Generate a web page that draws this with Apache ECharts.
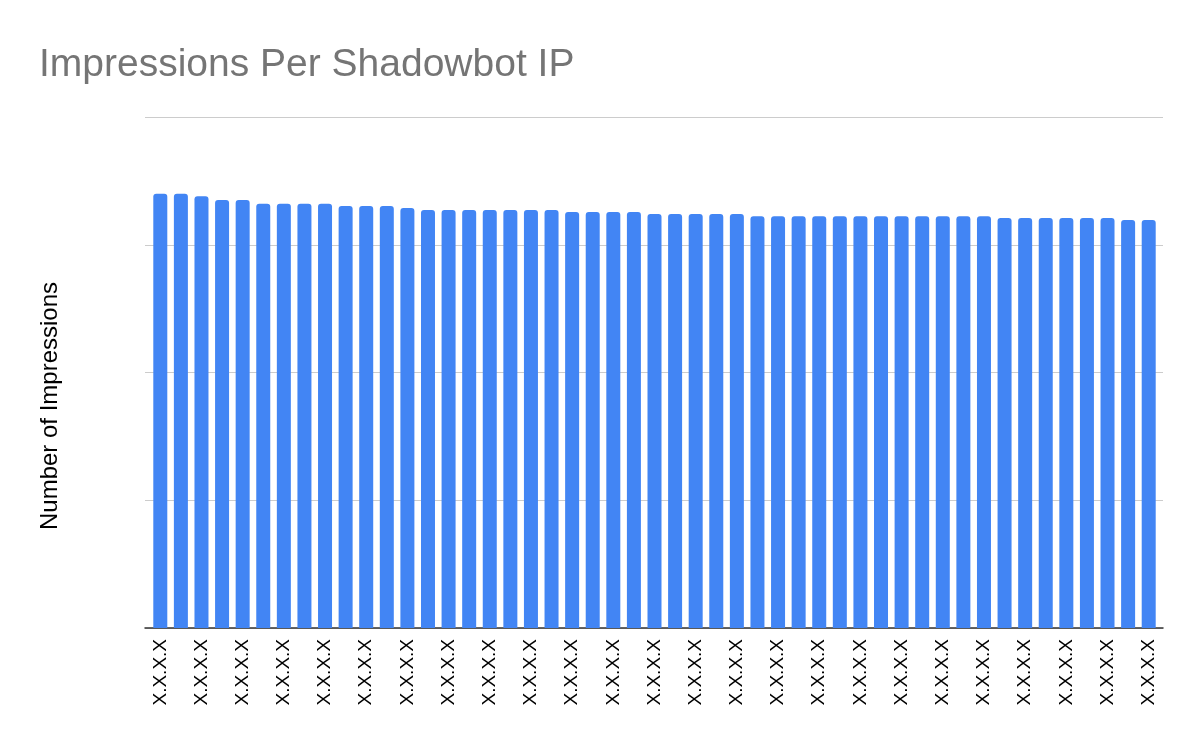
<!DOCTYPE html>
<html>
<head>
<meta charset="utf-8">
<script src="https://cdn.jsdelivr.net/npm/echarts@6/dist/echarts.min.js"></script>
<style>html,body{margin:0;padding:0;background:#fff;}#c{width:1200px;height:742px;}</style>
</head>
<body>
<div id="c"></div>
<script>
var titleText = "Impressions Per Shadowbot IP";
var yAxisName = "Number of Impressions";
var ipLabel = "X.X.X.X";
var values = [
  1700, 1700, 1690, 1675, 1675, 1660, 1660, 1660, 1660, 1652,
  1652, 1652, 1644, 1636, 1636, 1636, 1636, 1636, 1636, 1636,
  1628, 1628, 1628, 1628, 1620, 1620, 1620, 1620, 1620, 1612,
  1612, 1612, 1612, 1612, 1612, 1612, 1612, 1612, 1612, 1612,
  1612, 1605, 1605, 1605, 1605, 1605, 1605, 1597, 1597
];
var categories = values.map(function(){ return ipLabel; });
var yMax = 2000, yInterval = 500;

var chart = echarts.init(document.getElementById('c'));
chart.setOption({
  animation: false,
  backgroundColor: '#fff',
  title: {
    text: titleText, left: 34, top: 41,
    textStyle: { fontFamily: 'Liberation Sans, Arial, sans-serif', fontSize: 39, fontWeight: 'normal', color: '#757575' }
  },
  graphic: [{
    type: 'text', x: 50, y: 406, rotation: Math.PI / 2,
    style: { text: yAxisName, fontFamily: 'Liberation Sans, Arial, sans-serif', fontSize: 24, fill: '#000', align: 'center', verticalAlign: 'middle' }
  }],
  grid: [
    { left: 145, right: 37, top: 117, bottom: 114 },
    { left: 150, right: 41, top: 117, bottom: 114 }
  ],
  xAxis: [
    { type: 'value', gridIndex: 0, min: 0, max: 1, axisLabel: { show: false }, axisTick: { show: false }, splitLine: { show: false },
      axisLine: { show: true, onZero: false, lineStyle: { color: '#333', width: 1.5 } } },
    { type: 'category', gridIndex: 1, data: categories, axisLine: { show: false }, axisTick: { show: false },
      axisLabel: { interval: 1, rotate: 90, margin: 11, fontFamily: 'Liberation Sans, Arial, sans-serif', fontSize: 19, color: '#000' } }
  ],
  yAxis: [
    { type: 'value', gridIndex: 0, min: 0, max: yMax, interval: yInterval, axisLabel: { show: false }, axisLine: { show: false }, axisTick: { show: false },
      splitLine: { show: true, lineStyle: { color: '#cccccc', width: 1 } } },
    { type: 'value', gridIndex: 1, min: 0, max: yMax, interval: yInterval, show: false, splitLine: { show: false } }
  ],
  series: [{
    type: 'bar', xAxisIndex: 1, yAxisIndex: 1, data: values, barWidth: 14,
    itemStyle: { color: '#4285F4', borderRadius: [3, 3, 0, 0] }
  }]
});
</script>
</body>
</html>
